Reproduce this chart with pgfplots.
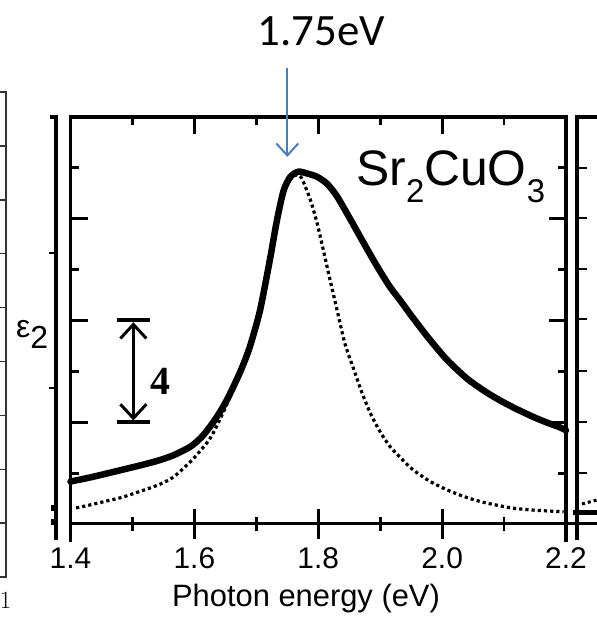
\documentclass[border=0pt]{standalone}
\usepackage{fontspec}
\setmainfont{Liberation Sans}
\newfontfamily\calibrifont{Carlito}
\newfontfamily\seriffont{Liberation Serif}
\usepackage{pgfplots}
\pgfplotsset{compat=1.18}
\usetikzlibrary{arrows.meta}
\definecolor{annoblue}{RGB}{74,126,187}

% epsilon_2 spectra of Sr2CuO3 (solid: measured, dotted: model)
\pgfplotstableread{
E      eps
1.400  1.67
1.430  1.82
1.458  1.98
1.485  2.14
1.512  2.30
1.540  2.48
1.566  2.70
1.593  3.03
1.611  3.40
1.626  3.85
1.640  4.35
1.653  4.90
1.665  5.50
1.677  6.15
1.690  7.00
1.706  8.40
1.722  10.40
1.733  11.90
1.744  13.10
1.755  13.65
1.768  13.85
1.782  13.78
1.798  13.65
1.814  13.38
1.830  12.89
1.852  11.97
1.873  11.06
1.895  10.13
1.915  9.35
1.935  8.70
1.953  8.10
1.980  7.25
2.008  6.45
2.040  5.72
2.070  5.20
2.094  4.85
2.120  4.52
2.148  4.20
2.170  3.98
2.190  3.80
2.200  3.68
}\measured

\pgfplotstableread{
E      eps
1.409  0.63
1.430  0.74
1.458  0.90
1.485  1.06
1.512  1.28
1.540  1.52
1.566  1.84
1.598  2.56
1.625  3.35
1.641  4.10
1.655  4.85
1.674  6.00
1.690  7.05
1.706  8.45
1.722  10.30
1.733  11.90
1.744  13.00
1.755  13.55
1.765  13.72
1.773  13.60
1.787  12.76
1.798  11.84
1.808  10.79
1.819  9.60
1.830  8.45
1.843  7.10
1.857  6.10
1.870  5.20
1.884  4.36
1.900  3.62
1.916  3.04
1.935  2.55
1.953  2.13
1.980  1.68
2.008  1.34
2.035  1.08
2.062  0.88
2.090  0.73
2.115  0.62
2.150  0.54
2.196  0.48
}\model

\begin{document}
\begin{tikzpicture}[x=1bp,y=1bp]

% ---- main frame with the curves ----
\begin{axis}[
  scale only axis, width=495.5bp, height=423bp,
  xmin=1.4, xmax=2.2, ymin=-0.63, ymax=16,
  axis x line*=top, axis y line*=box,
  axis line style={-, line width=3.2bp, line cap=rect},
  xtick={1.6,1.8,2.0}, minor xtick={1.5,1.7,1.9,2.1},
  ytick={4,8,12}, minor ytick={2,6,10,14},
  xticklabels={}, yticklabels={},
  tick align=inside,
  major tick length=17bp, minor tick length=8bp,
  tick style={black, line width=2.8bp},
  clip=false,
]
\coordinate (O) at (rel axis cs:0,0);
\addplot[black, line width=3.2bp, dash pattern=on 3.2bp off 3bp, smooth, tension=0.45]
  table[x=E, y=eps] {\model};
\addplot[black, line width=6.5bp, line join=round, line cap=round, smooth, tension=0.45]
  table[x=E, y=eps] {\measured};

% scale bar of 4 units
\draw[line width=4bp] (axis cs:1.475,8) -- (axis cs:1.528,8);
\draw[line width=4bp] (axis cs:1.475,4) -- (axis cs:1.528,4);
\draw[line width=3bp,
  {Straight Barb[length=14bp,width=26bp]}-{Straight Barb[length=14bp,width=26bp]}]
  (axis cs:1.5015,7.93) -- (axis cs:1.5015,4.07);
\node[inner sep=0, anchor=center] at (axis cs:1.546,5.6)
  {\fontsize{40}{40}\selectfont\seriffont\bfseries 4};

% peak position marker
\draw[annoblue, line width=2bp, -{Straight Barb[length=12bp,width=22bp,line width=2bp]}]
  (axis cs:1.75,17.92) -- (axis cs:1.75,14.43);
\node[anchor=base, inner sep=0] at (axis cs:1.805,18.83)
  {\fontsize{45}{45}\selectfont\calibrifont 1.75eV};

\node[anchor=base west, inner sep=0] at (axis cs:1.861,13.29)
  {\fontsize{50}{50}\selectfont Sr\raisebox{-17bp}{\fontsize{33}{33}\selectfont 2}CuO\raisebox{-17bp}{\fontsize{33}{33}\selectfont 3}};
\end{axis}

% ---- energy axis at zero ----
\begin{axis}[
  scale only axis, width=495.5bp, height=423bp,
  xmin=1.4, xmax=2.2, ymin=-0.63, ymax=16,
  axis x line=middle, axis y line=none,
  axis line style={-, line width=3bp},
  xtick={1.4,1.6,1.8,2.0,2.2}, minor xtick={1.5,1.7,1.9,2.1},
  xticklabels={1.4,1.6,1.8,2.0,2.2},
  tick align=center,
  major tick length=30bp, minor tick length=14bp,
  tick style={black, line width=2.8bp},
  xticklabel style={font=\fontsize{30}{30}\selectfont, anchor=base, inner sep=0, yshift=-30bp},
  clip=false,
]
\end{axis}

% ---- everything else, in page units measured from the page corner ----
\begin{scope}[shift={(O)}, xshift=-70.5bp, yshift=-88bp]
% far-left panel
\draw[line width=1.5bp, black!80] (0,536) -- (6,536) -- (6,51) -- (0,51);
\foreach \k in {1,...,8} {
  \draw[line width=1.5bp, black!80] (0,{536-53.9*\k}) -- (6,{536-53.9*\k});
}
\node[anchor=center, inner sep=0] at (5.5,27) {\fontsize{24}{24}\selectfont$1$};
% left panel
\draw[line width=3.2bp] (50,511) -- (56,511) -- (56,88);
\draw[line width=2.8bp] (49,375) -- (56,375);
\draw[line width=2.8bp] (49,240) -- (56,240);
\draw[line width=6bp] (51,120) -- (58,120);
\draw[line width=6bp] (51,106) -- (58,106);
% right panel
\draw[line width=3.2bp] (597,511) -- (577,511) -- (577,88);
\foreach \yy in {168,218,269,319,371,422,473} {
  \draw[line width=2.8bp] (577,{628-\yy}) -- (587,{628-\yy});
}
\draw[line width=3bp] (566,104) -- (597,104);
\draw[line width=5bp] (573,115) -- (597,115);
\draw[line width=3bp, dash pattern=on 3bp off 3bp] (582,124) -- (597,128);

% y label
\node[anchor=base west, inner sep=0] at (16,290)
  {\fontsize{32}{32}\selectfont ε\raisebox{-11bp}{2}};
% x label
\node[anchor=base, inner sep=0] at (306,22)
  {\fontsize{31}{31}\selectfont Photon energy (eV)};

% fixed page extent
\pgfresetboundingbox
\path[use as bounding box] (0,0) rectangle (597,628);
\end{scope}
\end{tikzpicture}
\end{document}
